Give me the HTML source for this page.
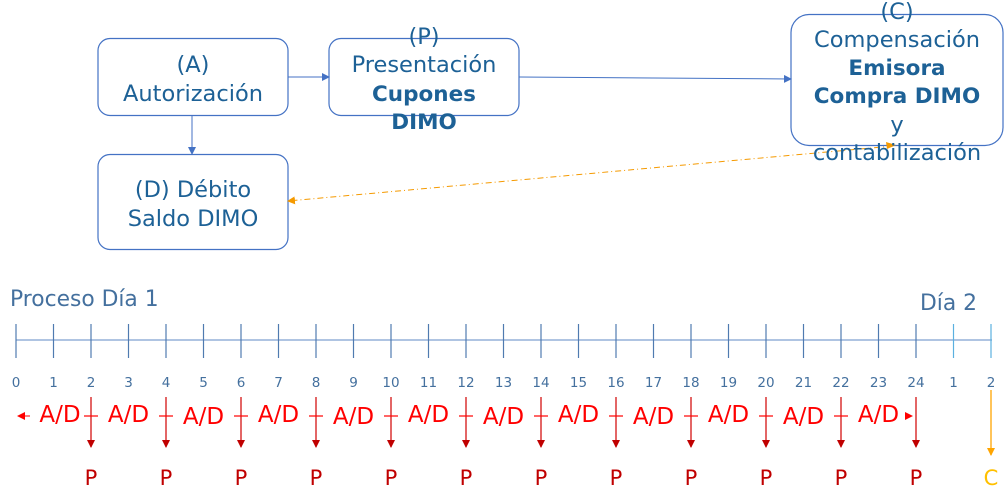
<!DOCTYPE html>
<html><head><meta charset="utf-8"><style>
html,body{margin:0;padding:0;background:#fff;}
svg{display:block;font-family:"DejaVu Sans","Liberation Sans",sans-serif;}
.b{fill:#fff;stroke:#4472c4;stroke-width:1.2;}
.t{fill:#1d6196;font-size:22.5px;text-anchor:middle;}
.tb{fill:#1d6196;font-size:21.5px;font-weight:bold;text-anchor:middle;}
.n{fill:#44709e;font-size:13.5px;text-anchor:middle;}
.ad{fill:#ff0000;font-size:23px;text-anchor:middle;}
.p{fill:#c00000;font-size:21px;text-anchor:middle;}
</style></head><body>
<svg width="1007" height="497" viewBox="0 0 1007 497">
<defs>
<marker id="ab" markerWidth="8" markerHeight="8" refX="7" refY="4" orient="auto" markerUnits="userSpaceOnUse"><path d="M0,0L8,4L0,8z" fill="#4472c4"/></marker>
<marker id="ao" markerWidth="8" markerHeight="8" refX="7" refY="4" orient="auto" markerUnits="userSpaceOnUse"><path d="M0,0L8,4L0,8z" fill="#f59a00"/></marker>
<marker id="ar" markerWidth="8" markerHeight="8" refX="7" refY="4" orient="auto" markerUnits="userSpaceOnUse"><path d="M0,0L8,4L0,8z" fill="#c00000"/></marker>
<marker id="ac" markerWidth="8" markerHeight="8" refX="7" refY="4" orient="auto" markerUnits="userSpaceOnUse"><path d="M0,0L8,4L0,8z" fill="#ffa500"/></marker>
</defs>
<rect class="b" x="98" y="38.5" width="190" height="77" rx="12"/>
<rect class="b" x="329" y="38.5" width="190" height="77" rx="12"/>
<rect class="b" x="791" y="14.5" width="212" height="131" rx="18"/>
<rect class="b" x="98" y="154.5" width="190" height="95" rx="12"/>
<line x1="288" y1="77" x2="329" y2="77" stroke="#4472c4" stroke-width="1" marker-end="url(#ab)"/>
<line x1="519" y1="77" x2="791" y2="79" stroke="#4472c4" stroke-width="1" marker-end="url(#ab)"/>
<line x1="192" y1="116" x2="192" y2="154" stroke="#4472c4" stroke-width="1" marker-end="url(#ab)"/>
<line x1="893" y1="146" x2="288" y2="201" stroke="#f59a00" stroke-width="1" stroke-dasharray="6,3,1,3" marker-end="url(#ao)"/>
<path d="M886,142L896,145L887,149z" fill="#f59a00"/>
<text class="t" x="193" y="72">(A)</text>
<text class="t" x="193" y="101">Autorización</text>
<text class="t" x="424" y="44">(P)</text>
<text class="t" x="424" y="72">Presentación</text>
<text class="tb" x="424" y="101">Cupones</text>
<text class="tb" x="424" y="129">DIMO</text>
<text class="t" x="897" y="19">(C)</text>
<text class="t" x="897" y="47">Compensación</text>
<text class="tb" x="897" y="75">Emisora</text>
<text class="tb" x="897" y="103">Compra DIMO</text>
<text class="t" x="897" y="132">y</text>
<text class="t" x="897" y="160">contabilización</text>
<text class="t" x="193" y="197">(D) Débito</text>
<text class="t" x="193" y="226">Saldo DIMO</text>
<text x="10" y="306" style="fill:#44709e;font-size:21.8px">Proceso Día 1</text>
<text x="920" y="310" style="fill:#44709e;font-size:21.8px">Día 2</text>
<line x1="16" y1="340" x2="992" y2="340" stroke="#7fa0d0" stroke-width="1.2"/>
<g stroke="#4f7bb0" stroke-width="1.2" id="ticks"></g>
<g id="lbl"></g>
<g id="red"></g>
<line x1="991" y1="390" x2="991" y2="455" stroke="#ffa500" stroke-width="1.3" marker-end="url(#ac)"/>
<text x="991" y="485" style="fill:#ffc000;font-size:21px;text-anchor:middle">C</text>
<text class="ad" x="60" y="422">A/D</text>
<path d="M17,416L25,412L25,420z" fill="#ff0000"/><line x1="25" y1="416" x2="30" y2="416" stroke="#ff0000"/>
<path d="M913,416L905,412L905,420z" fill="#ff0000"/>
</svg>
<script>
(function(){
var ns="http://www.w3.org/2000/svg";
function el(t,a,p,txt){var e=document.createElementNS(ns,t);for(var k in a)e.setAttribute(k,a[k]);if(txt!=null)e.textContent=txt;document.getElementById(p).appendChild(e);}
var labels=["0","1","2","3","4","5","6","7","8","9","10","11","12","13","14","15","16","17","18","19","20","21","22","23","24","1","2"];
for(var i=0;i<27;i++){var x=16+i*37.5;
el("line",{x1:x,y1:324,x2:x,y2:358,stroke:i>=25?"#5bb0e0":"#4f7bb0"},"ticks");
el("text",{x:x,y:387,"class":"n"},"lbl",labels[i]);}
for(var j=1;j<=12;j++){var x=16+j*75;
el("line",{x1:x,y1:397,x2:x,y2:447,stroke:"#d00000","stroke-width":1.2,"marker-end":"url(#ar)"},"red");
if(j<12)el("line",{x1:x-7,y1:416,x2:x+7,y2:416,stroke:"#ff0000","stroke-width":1.2},"red");
el("text",{x:x,y:485,"class":"p"},"red","P");
if(j<12)el("text",{x:x+37.5,y:j%2?422:424,"class":"ad"},"red","A/D");}
})();
</script>
</body></html>
